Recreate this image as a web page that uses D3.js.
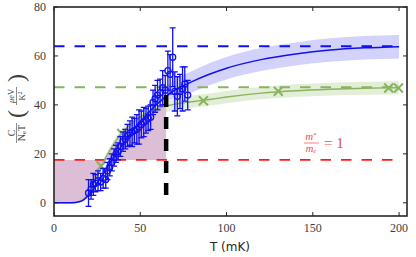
<!DOCTYPE html>
<html lang="en">
<head>
  <meta charset="UTF-8">
  <title>Specific heat vs temperature</title>
  <style>
    body { margin: 0; background: #fff; }
    svg { display: block; }
  </style>
  <script src="https://d3js.org/d3.v7.min.js"></script>
</head>
<body>
  <div id="chart"></div>
  <script>
    // fitted curves (T in mK, C/NeT in ueV/K^2)
    const curveT    = [0, 10, 15, 20, 25, 30, 35, 40, 45, 50, 55, 60, 65, 70, 80, 90, 100, 120, 140, 160, 180, 200];
    const blueFit   = [0, 0, 0.5, 3, 8, 13.5, 19, 24, 29, 33, 37, 40.5, 43.5, 46, 49.5, 52.5, 55, 58.5, 60.8, 62.4, 63.3, 63.8];
    const blueErr   = [0, 0, 0.2, 0.5, 1, 1.5, 2, 2.5, 3, 3.3, 3.6, 3.9, 4.1, 4.3, 4.4, 4.5, 4.6, 4.7, 4.7, 4.8, 4.8, 4.8];
    const greenFit  = [0, 0, 0.5, 4, 11, 18.5, 24.5, 29, 32.5, 35, 37, 38.5, 39.5, 40.3, 41.3, 42.2, 43.2, 44.8, 45.8, 46.4, 46.8, 47.0];
    const greenErr  = [0, 0, 0.2, 0.5, 1, 1.3, 1.6, 1.8, 2, 2.1, 2.2, 2.3, 2.4, 2.4, 2.5, 2.5, 2.5, 2.5, 2.6, 2.6, 2.7, 2.7];

    // green markers
    const markT = [27.3, 39.3, 86.6, 130, 194, 199.7];
    const markC = [15.0, 28.3, 41.7, 45.6, 46.9, 46.9];

    // measured points with error bars
    const dataT = [20.0, 21.5, 22.8, 24.0, 25.5, 27.0, 28.5, 30.0, 31.0, 32.3, 33.5, 34.8, 36.0, 37.2, 38.5, 40.0,
                   41.3, 42.6, 44.0, 45.3, 46.6, 48.0, 49.3, 50.6, 52.0, 53.3, 54.6, 56.0, 57.4, 58.6, 60.0, 61.5,
                   63.0, 64.5, 66.0, 67.3, 68.8, 70.0, 71.5, 73.0, 74.5, 75.8, 77.5];
    const dataC = [4.0, 5.5, 7.5, 8.0, 9.0, 8.5, 10.0, 9.5, 13.0, 14.5, 16.5, 18.5, 20.0, 21.0, 23.0, 25.0,
                   26.0, 27.5, 28.5, 29.0, 29.5, 30.0, 31.0, 32.0, 33.0, 33.5, 34.5, 35.0, 41.0, 42.5, 44.0, 45.0,
                   47.0, 46.0, 54.0, 52.5, 59.5, 45.5, 43.5, 45.5, 46.5, 48.5, 44.0];
    const dataE = [5.5, 4, 4.5, 3.5, 4, 3.5, 4, 3.5, 3.5, 3.5, 3.5, 3.5, 3.5, 3.5, 4, 4,
                   4, 4.5, 5, 6, 5, 6, 7, 5.5, 6, 5, 5, 5, 5, 5.5, 6, 5.5,
                   7, 6, 8, 8, 12, 8, 8, 7, 9, 7, 6];

    // reference levels
    const levelBlue = 64;
    const levelGreen = 47.2;
    const levelRed = 17.5;
    const tcT = 65;
    const tcTop = 44;

    const xTicks = [0, 50, 100, 150, 200];
    const yTicks = [0, 20, 40, 60, 80];

    const width = 416, height = 257;
    const x = d3.scaleLinear().domain([0, 204.6]).range([54, 407]);
    const y = d3.scaleLinear().domain([-5.4, 80]).range([216, 7]);

    const blue = "#1010f0", green = "#8ab35e", red = "#ff1a1a";

    const svg = d3.create("svg")
        .attr("width", width)
        .attr("height", height);

    const fit = (vals) => curveT.map((t, i) => ({t, v: vals[i]}));
    const band = (vals, err) => curveT.map((t, i) => ({t, lo: vals[i] - err[i], hi: vals[i] + err[i]}));

    const bandArea = d3.area()
        .x(d => x(d.t)).y0(d => y(d.lo)).y1(d => y(d.hi))
        .curve(d3.curveMonotoneX);

    svg.append("path").datum(band(blueFit, blueErr))
        .attr("d", bandArea).attr("fill", "#d2d2fb");
    svg.append("path").datum(band(greenFit, greenErr))
        .attr("d", bandArea).attr("fill", "#e3eed8");

    // shaded region between m*/me=1 level and green fit, up to Tc
    const shadePts = fit(greenFit).filter(d => d.t <= tcT);
    svg.append("path").datum(shadePts)
        .attr("d", d3.area()
          .x(d => x(d.t)).y0(y(levelRed)).y1(d => y(d.v))
          .curve(d3.curveMonotoneX))
        .attr("fill", "#dcbfd7");

    // horizontal dashed levels
    [[levelBlue, blue, 2], [levelGreen, green, 2], [levelRed, red, 1.8]].forEach(([v, c, w]) => {
      svg.append("line")
          .attr("x1", x(0)).attr("x2", x(200))
          .attr("y1", y(v)).attr("y2", y(v))
          .attr("stroke", c).attr("stroke-width", w)
          .attr("stroke-dasharray", "10.5,10");
    });

    const line = d3.line().x(d => x(d.t)).y(d => y(d.v)).curve(d3.curveMonotoneX);
    svg.append("path").datum(fit(greenFit))
        .attr("d", line).attr("fill", "none")
        .attr("stroke", green).attr("stroke-width", 1.4);
    svg.append("path").datum(fit(blueFit))
        .attr("d", line).attr("fill", "none")
        .attr("stroke", blue).attr("stroke-width", 1.5);

    // green x markers
    svg.append("g")
      .selectAll("path")
      .data(markT.map((t, i) => ({t, v: markC[i]})))
      .join("path")
        .attr("d", d => {
          const cx = x(d.t), cy = y(d.v), s = 4.5;
          return `M${cx - s},${cy - s}L${cx + s},${cy + s}M${cx - s},${cy + s}L${cx + s},${cy - s}`;
        })
        .attr("stroke", green).attr("stroke-width", 2).attr("fill", "none");

    // data points
    const pts = dataT.map((t, i) => ({t, v: dataC[i], e: dataE[i]}));
    const gp = svg.append("g").attr("stroke", blue).attr("fill", "none").attr("stroke-width", 1.3);
    gp.selectAll("path.err")
      .data(pts)
      .join("path")
        .attr("class", "err")
        .attr("d", d => {
          const cx = x(d.t), t = y(d.v + d.e), b = y(d.v - d.e), c = 3;
          return `M${cx},${t}L${cx},${b}M${cx - c},${t}L${cx + c},${t}M${cx - c},${b}L${cx + c},${b}`;
        });
    gp.selectAll("circle")
      .data(pts)
      .join("circle")
        .attr("cx", d => x(d.t)).attr("cy", d => y(d.v)).attr("r", 3);

    // Tc marker
    svg.append("line")
        .attr("x1", x(tcT)).attr("x2", x(tcT))
        .attr("y1", y(tcTop)).attr("y2", y(0))
        .attr("stroke", "#000").attr("stroke-width", 4.5)
        .attr("stroke-dasharray", "12,10");

    // frame and ticks
    const frame = "#262626";
    svg.append("rect")
        .attr("x", x(0)).attr("y", y(80))
        .attr("width", x(204.6) - x(0)).attr("height", y(-5.4) - y(80))
        .attr("fill", "none").attr("stroke", frame).attr("stroke-width", 1.6);

    const axes = svg.append("g").attr("stroke", frame).attr("stroke-width", 1);
    xTicks.forEach(t => {
      axes.append("line").attr("x1", x(t)).attr("x2", x(t)).attr("y1", y(-5.4)).attr("y2", y(-5.4) - 4);
      axes.append("line").attr("x1", x(t)).attr("x2", x(t)).attr("y1", y(80)).attr("y2", y(80) + 4);
    });
    yTicks.forEach(v => {
      axes.append("line").attr("x1", x(0)).attr("x2", x(0) + 4).attr("y1", y(v)).attr("y2", y(v));
      axes.append("line").attr("x1", x(204.6)).attr("x2", x(204.6) - 4).attr("y1", y(v)).attr("y2", y(v));
    });

    const serif = "'Liberation Serif', 'DejaVu Serif', serif";
    svg.append("g")
        .attr("font-family", serif).attr("font-size", 12).attr("fill", "#404040")
        .attr("text-anchor", "middle")
      .selectAll("text")
      .data(xTicks)
      .join("text")
        .attr("x", d => x(d)).attr("y", 232)
        .text(d => d);

    svg.append("g")
        .attr("font-family", serif).attr("font-size", 12).attr("fill", "#404040")
        .attr("text-anchor", "end")
      .selectAll("text")
      .data(yTicks)
      .join("text")
        .attr("x", 46).attr("y", d => y(d) + 4)
        .text(d => d);

    svg.append("text")
        .attr("x", 230).attr("y", 251)
        .attr("text-anchor", "middle")
        .attr("font-family", "'DejaVu Sans', sans-serif").attr("font-size", 12)
        .attr("fill", "#262626")
        .text("T (mK)");

    // y label: C/(Ne T) (ueV/K^2)
    const ink = "#404040";
    const yl = svg.append("g")
        .attr("transform", "translate(18,110) rotate(-90)")
        .attr("font-family", serif).attr("fill", ink)
        .attr("text-anchor", "middle");
    yl.append("text").attr("x", -23).attr("y", -3.5).attr("font-size", 10).text("C");
    yl.append("line").attr("x1", -33).attr("x2", -13).attr("y1", -1.5).attr("y2", -1.5)
        .attr("stroke", ink).attr("stroke-width", 0.6);
    const den = yl.append("text").attr("x", -23).attr("y", 6.5).attr("font-size", 10);
    den.append("tspan").text("N");
    den.append("tspan").attr("font-size", 7).attr("dy", 1.5).text("e");
    den.append("tspan").attr("dy", -1.5).text("T");
    yl.append("text").attr("x", -4).attr("y", 6).attr("font-size", 24).text("(");
    yl.append("text").attr("x", 32).attr("y", 6).attr("font-size", 24).text(")");
    const num2 = yl.append("text").attr("x", 14).attr("y", -4).attr("font-size", 8.5);
    num2.append("tspan").attr("font-style", "italic").text("μ");
    num2.append("tspan").text("eV");
    yl.append("line").attr("x1", 5).attr("x2", 23).attr("y1", -1.5).attr("y2", -1.5)
        .attr("stroke", ink).attr("stroke-width", 0.6);
    const den2 = yl.append("text").attr("x", 14).attr("y", 6.5).attr("font-size", 8.5);
    den2.append("tspan").text("K");
    den2.append("tspan").attr("font-size", 6).attr("dy", -2.5).text("2");

    // m*/me = 1 label
    const mc = "#f24848";
    const ml = svg.append("g").attr("font-family", serif).attr("fill", mc);
    const mnum = ml.append("text").attr("x", 311).attr("y", 140).attr("text-anchor", "middle").attr("font-size", 10.5);
    mnum.append("tspan").attr("font-style", "italic").text("m");
    mnum.append("tspan").attr("font-size", 7).attr("dy", -3).text("*");
    ml.append("line").attr("x1", 304).attr("x2", 319).attr("y1", 143).attr("y2", 143)
        .attr("stroke", mc).attr("stroke-width", 0.7);
    const mden = ml.append("text").attr("x", 311).attr("y", 151.5).attr("text-anchor", "middle").attr("font-size", 10.5);
    mden.append("tspan").attr("font-style", "italic").text("m");
    mden.append("tspan").attr("font-size", 7).attr("dy", 1.5).attr("font-style", "italic").text("e");
    ml.append("text").attr("x", 324).attr("y", 147.5).attr("font-size", 15).text("= 1");

    document.getElementById("chart").appendChild(svg.node());
  </script>
</body>
</html>
